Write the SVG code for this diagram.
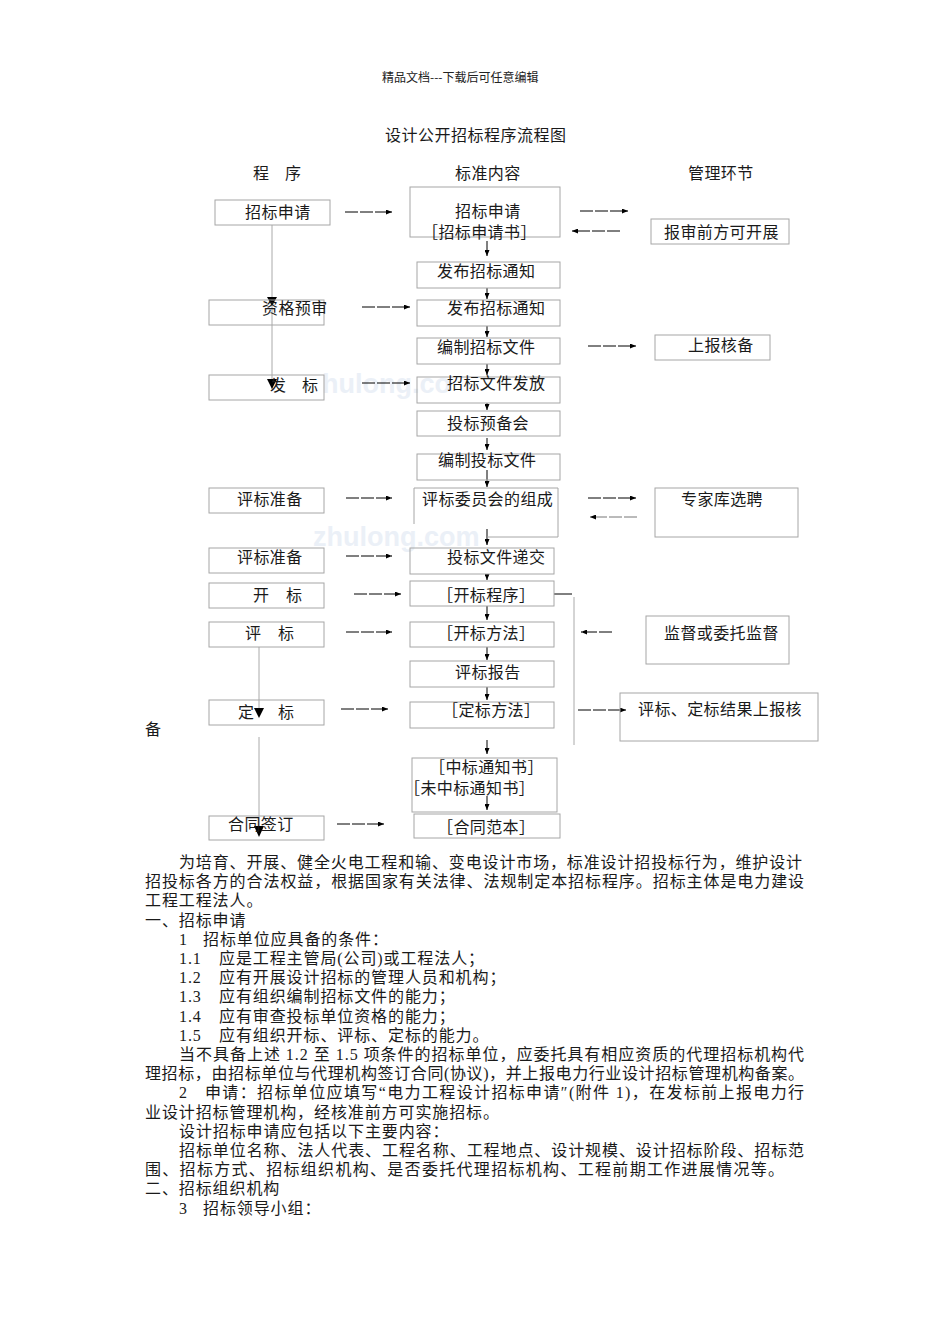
<svg xmlns="http://www.w3.org/2000/svg" width="950" height="1344" viewBox="0 0 950 1344">
<style>
.box{fill:none;stroke:#a6a6a6;stroke-width:1}
.t{font-family:"Liberation Serif","Noto Sans CJK SC",serif;font-size:16px;fill:#1a1a1a;letter-spacing:0.4px}
.b{font-family:"Liberation Serif","Noto Sans CJK SC",serif;font-size:16px;fill:#1a1a1a;letter-spacing:0.9px}
.h{stroke:#000;stroke-width:1;stroke-dasharray:13 2;fill:none}
.hg{stroke:#777;stroke-width:1;stroke-dasharray:13 2;fill:none}
.v{stroke:#000;stroke-width:1;fill:none}
.gl{stroke:#aaa;stroke-width:1;fill:none}
.tri{fill:#000}
.wm{font-family:"Liberation Sans",sans-serif;font-weight:bold;font-size:27px;fill:#ebf0f7}
</style>
<defs>
<marker id="ah" viewBox="0 0 6 5" markerWidth="6" markerHeight="5" refX="6" refY="2.5" orient="auto" markerUnits="userSpaceOnUse"><path d="M0,0 L6,2.5 L0,5 z" fill="#000"/></marker>
</defs>
<rect width="950" height="1344" fill="#fff"/>
<g id="watermark">
<text class="wm" x="322" y="393">hulong.co</text>
<text class="wm" x="313" y="546">zhulong.com</text>
</g>
<g id="header">
<text x="382" y="82" style="font-family:'Noto Sans CJK SC',sans-serif;font-size:12px;fill:#222">精品文档---下载后可任意编辑</text>
<text class="t" x="385" y="141" style="letter-spacing:0.5px">设计公开招标程序流程图</text>
<text class="t" x="253" y="179">程<tspan x="285">序</tspan></text>
<text class="t" x="455" y="179">标准内容</text>
<text class="t" x="688" y="179">管理环节</text>
</g>
<g id="connectors">
<line class="gl" x1="272" y1="225" x2="272" y2="389"/>
<polygon class="tri" points="267,297 277,297 272,306"/>
<polygon class="tri" points="267,379 277,379 272,389"/>
<line class="gl" x1="259" y1="647" x2="259" y2="716"/>
<polygon class="tri" points="254,708 264,708 259,718"/>
<line class="gl" x1="259" y1="737" x2="259" y2="834"/>
<polygon class="tri" points="254,826 264,826 259,837"/>
<line class="h" x1="345" y1="212" x2="392" y2="212" marker-end="url(#ah)"/>
<line class="h" x1="362" y1="307" x2="410" y2="307" marker-end="url(#ah)"/>
<line class="h" x1="362" y1="383" x2="410" y2="383" marker-end="url(#ah)"/>
<line class="h" x1="346" y1="498" x2="392" y2="498" marker-end="url(#ah)"/>
<line class="h" x1="346" y1="556" x2="392" y2="556" marker-end="url(#ah)"/>
<line class="h" x1="354" y1="594" x2="401" y2="594" marker-end="url(#ah)"/>
<line class="h" x1="346" y1="632" x2="392" y2="632" marker-end="url(#ah)"/>
<line class="h" x1="341" y1="709" x2="388" y2="709" marker-end="url(#ah)"/>
<line class="h" x1="337" y1="824" x2="384" y2="824" marker-end="url(#ah)"/>
<line class="v" x1="487" y1="241" x2="487" y2="256" marker-end="url(#ah)"/>
<line class="v" x1="487" y1="288" x2="487" y2="299" marker-end="url(#ah)"/>
<line class="v" x1="487" y1="326" x2="487" y2="337" marker-end="url(#ah)"/>
<line class="v" x1="487" y1="364" x2="487" y2="375" marker-end="url(#ah)"/>
<line class="v" x1="487" y1="403" x2="487" y2="410" marker-end="url(#ah)"/>
<line class="v" x1="487" y1="438" x2="487" y2="450" marker-end="url(#ah)"/>
<line class="v" x1="487" y1="470" x2="487" y2="487" marker-end="url(#ah)"/>
<line class="v" x1="487" y1="529" x2="487" y2="545" marker-end="url(#ah)"/>
<line class="v" x1="487" y1="574" x2="487" y2="580" marker-end="url(#ah)"/>
<line class="v" x1="487" y1="606" x2="487" y2="620" marker-end="url(#ah)"/>
<line class="v" x1="487" y1="647" x2="487" y2="660" marker-end="url(#ah)"/>
<line class="v" x1="487" y1="687" x2="487" y2="700" marker-end="url(#ah)"/>
<line class="v" x1="487" y1="740" x2="487" y2="754" marker-end="url(#ah)"/>
<line class="v" x1="487" y1="796" x2="487" y2="810" marker-end="url(#ah)"/>
<line class="h" x1="580" y1="211" x2="628" y2="211" marker-end="url(#ah)"/>
<line class="h" x1="620" y1="231" x2="572" y2="231" marker-end="url(#ah)"/>
<line class="h" x1="588" y1="346" x2="636" y2="346" marker-end="url(#ah)"/>
<line class="h" x1="588" y1="498" x2="636" y2="498" marker-end="url(#ah)"/>
<line class="hg" x1="637" y1="517" x2="590" y2="517" marker-end="url(#ah)"/>
<line class="v" x1="554" y1="594" x2="572" y2="594"/>
<line class="gl" x1="574" y1="597" x2="574" y2="745"/>
<line class="h" x1="612" y1="632" x2="581" y2="632" marker-end="url(#ah)"/>
<line class="h" x1="578" y1="710" x2="626" y2="710" marker-end="url(#ah)"/>
</g>
<g id="n-l1"><rect class="box" x="215" y="200" width="115" height="25"/><text class="t" x="245" y="218">招标申请</text></g>
<g id="n-l2"><rect class="box" x="209" y="300" width="115" height="25"/><text class="t" x="262" y="314">资格预审</text></g>
<g id="n-l3"><rect class="box" x="209" y="375" width="115" height="25"/><text class="t" x="270" y="391">发<tspan x="302">标</tspan></text></g>
<g id="n-l4"><rect class="box" x="209" y="488" width="115" height="25"/><text class="t" x="237" y="505">评标准备</text></g>
<g id="n-l5"><rect class="box" x="209" y="548" width="115" height="25"/><text class="t" x="237" y="563">评标准备</text></g>
<g id="n-l6"><rect class="box" x="209" y="583" width="115" height="25"/><text class="t" x="253" y="601">开<tspan x="286">标</tspan></text></g>
<g id="n-l7"><rect class="box" x="209" y="622" width="115" height="25"/><text class="t" x="245" y="639">评<tspan x="278">标</tspan></text></g>
<g id="n-l8"><rect class="box" x="209" y="700" width="115" height="25"/><text class="t" x="238" y="718">定<tspan x="278">标</tspan></text></g>
<g id="n-l9"><rect class="box" x="209" y="816" width="115" height="24"/><text class="t" x="228" y="830">合同签订</text></g>
<g id="n-m1"><rect class="box" x="410" y="187" width="150" height="50"/><text class="t" x="455" y="217">招标申请</text><text class="t" x="422" y="238">［招标申请书］</text></g>
<g id="n-m2"><rect class="box" x="417" y="262" width="143" height="26"/><text class="t" x="437" y="277">发布招标通知</text></g>
<g id="n-m3"><rect class="box" x="417" y="300" width="143" height="26"/><text class="t" x="447" y="314">发布招标通知</text></g>
<g id="n-m4"><rect class="box" x="417" y="338" width="143" height="26"/><text class="t" x="437" y="353">编制招标文件</text></g>
<g id="n-m5"><rect class="box" x="417" y="377" width="143" height="26"/><text class="t" x="447" y="389">招标文件发放</text></g>
<g id="n-m6"><rect class="box" x="417" y="411" width="143" height="25"/><text class="t" x="447" y="429">投标预备会</text></g>
<g id="n-m7"><rect class="box" x="417" y="454" width="143" height="26"/><text class="t" x="438" y="466">编制投标文件</text></g>
<g id="n-m8"><path class="box" d="M414,524 V488 H558 V537 H487"/><text class="t" x="422" y="505">评标委员会的组成</text></g>
<g id="n-m9"><rect class="box" x="410" y="548" width="144" height="26"/><text class="t" x="447" y="563">投标文件递交</text></g>
<g id="n-m10"><rect class="box" x="410" y="581" width="144" height="25"/><text class="t" x="437" y="601">［开标程序］</text></g>
<g id="n-m11"><rect class="box" x="410" y="622" width="144" height="25"/><text class="t" x="437" y="639">［开标方法］</text></g>
<g id="n-m12"><rect class="box" x="410" y="661" width="144" height="26"/><text class="t" x="455" y="678">评标报告</text></g>
<g id="n-m13"><rect class="box" x="410" y="702" width="144" height="26"/><text class="t" x="442" y="716">［定标方法］</text></g>
<g id="n-m14"><rect class="box" x="412" y="758" width="145" height="54"/><text class="t" x="429" y="773">［中标通知书］</text><text class="t" x="404" y="794">［未中标通知书］</text></g>
<g id="n-m15"><rect class="box" x="414" y="814" width="146" height="24"/><text class="t" x="437" y="833">［合同范本］</text></g>
<g id="n-r1"><rect class="box" x="651" y="219" width="138" height="25"/><text class="t" x="664" y="238">报审前方可开展</text></g>
<g id="n-r2"><rect class="box" x="655" y="335" width="115" height="25"/><text class="t" x="688" y="351">上报核备</text></g>
<g id="n-r3"><rect class="box" x="655" y="488" width="143" height="49"/><text class="t" x="681" y="505">专家库选聘</text></g>
<g id="n-r4"><rect class="box" x="646" y="616" width="143" height="48"/><text class="t" x="664" y="639">监督或委托监督</text></g>
<g id="n-r5"><rect class="box" x="620" y="693" width="198" height="48"/><text class="t" x="638" y="715">评标、定标结果上报核</text></g>
<text class="t" x="145" y="735">备</text>
<g id="body">
<text class="b" x="179" y="868" textLength="624" lengthAdjust="spacing">为培育、开展、健全火电工程和输、变电设计市场，标准设计招投标行为，维护设计</text>
<text class="b" x="145" y="887" textLength="660" lengthAdjust="spacing">招投标各方的合法权益，根据国家有关法律、法规制定本招标程序。招标主体是电力建设</text>
<text class="b" x="145" y="906">工程工程法人。</text>
<text class="b" x="145" y="926">一、招标申请</text>
<text class="b" x="179" y="945">1<tspan x="203">招标单位应具备的条件：</tspan></text>
<text class="b" x="179" y="964">1.1<tspan x="219">应是工程主管局(公司)或工程法人；</tspan></text>
<text class="b" x="179" y="983">1.2<tspan x="219">应有开展设计招标的管理人员和机构；</tspan></text>
<text class="b" x="179" y="1002">1.3<tspan x="219">应有组织编制招标文件的能力；</tspan></text>
<text class="b" x="179" y="1022">1.4<tspan x="219">应有审查投标单位资格的能力；</tspan></text>
<text class="b" x="179" y="1041">1.5<tspan x="219">应有组织开标、评标、定标的能力。</tspan></text>
<text class="b" x="179" y="1060" textLength="626" lengthAdjust="spacing">当不具备上述 1.2 至 1.5 项条件的招标单位，应委托具有相应资质的代理招标机构代</text>
<text class="b" x="145" y="1079" textLength="660" lengthAdjust="spacing">理招标，由招标单位与代理机构签订合同(协议)，并上报电力行业设计招标管理机构备案。</text>
<text class="b" x="179" y="1098">2</text>
<text class="b" x="205" y="1098" textLength="600" lengthAdjust="spacing">申请：招标单位应填写“电力工程设计招标申请″(附件 1)，在发标前上报电力行</text>
<text class="b" x="145" y="1118">业设计招标管理机构，经核准前方可实施招标。</text>
<text class="b" x="179" y="1137">设计招标申请应包括以下主要内容：</text>
<text class="b" x="179" y="1156" textLength="626" lengthAdjust="spacing">招标单位名称、法人代表、工程名称、工程地点、设计规模、设计招标阶段、招标范</text>
<text class="b" x="145" y="1175" textLength="640" lengthAdjust="spacing">围、招标方式、招标组织机构、是否委托代理招标机构、工程前期工作进展情况等。</text>
<text class="b" x="145" y="1194">二、招标组织机构</text>
<text class="b" x="179" y="1214">3<tspan x="203">招标领导小组：</tspan></text>
</g>
</svg>
